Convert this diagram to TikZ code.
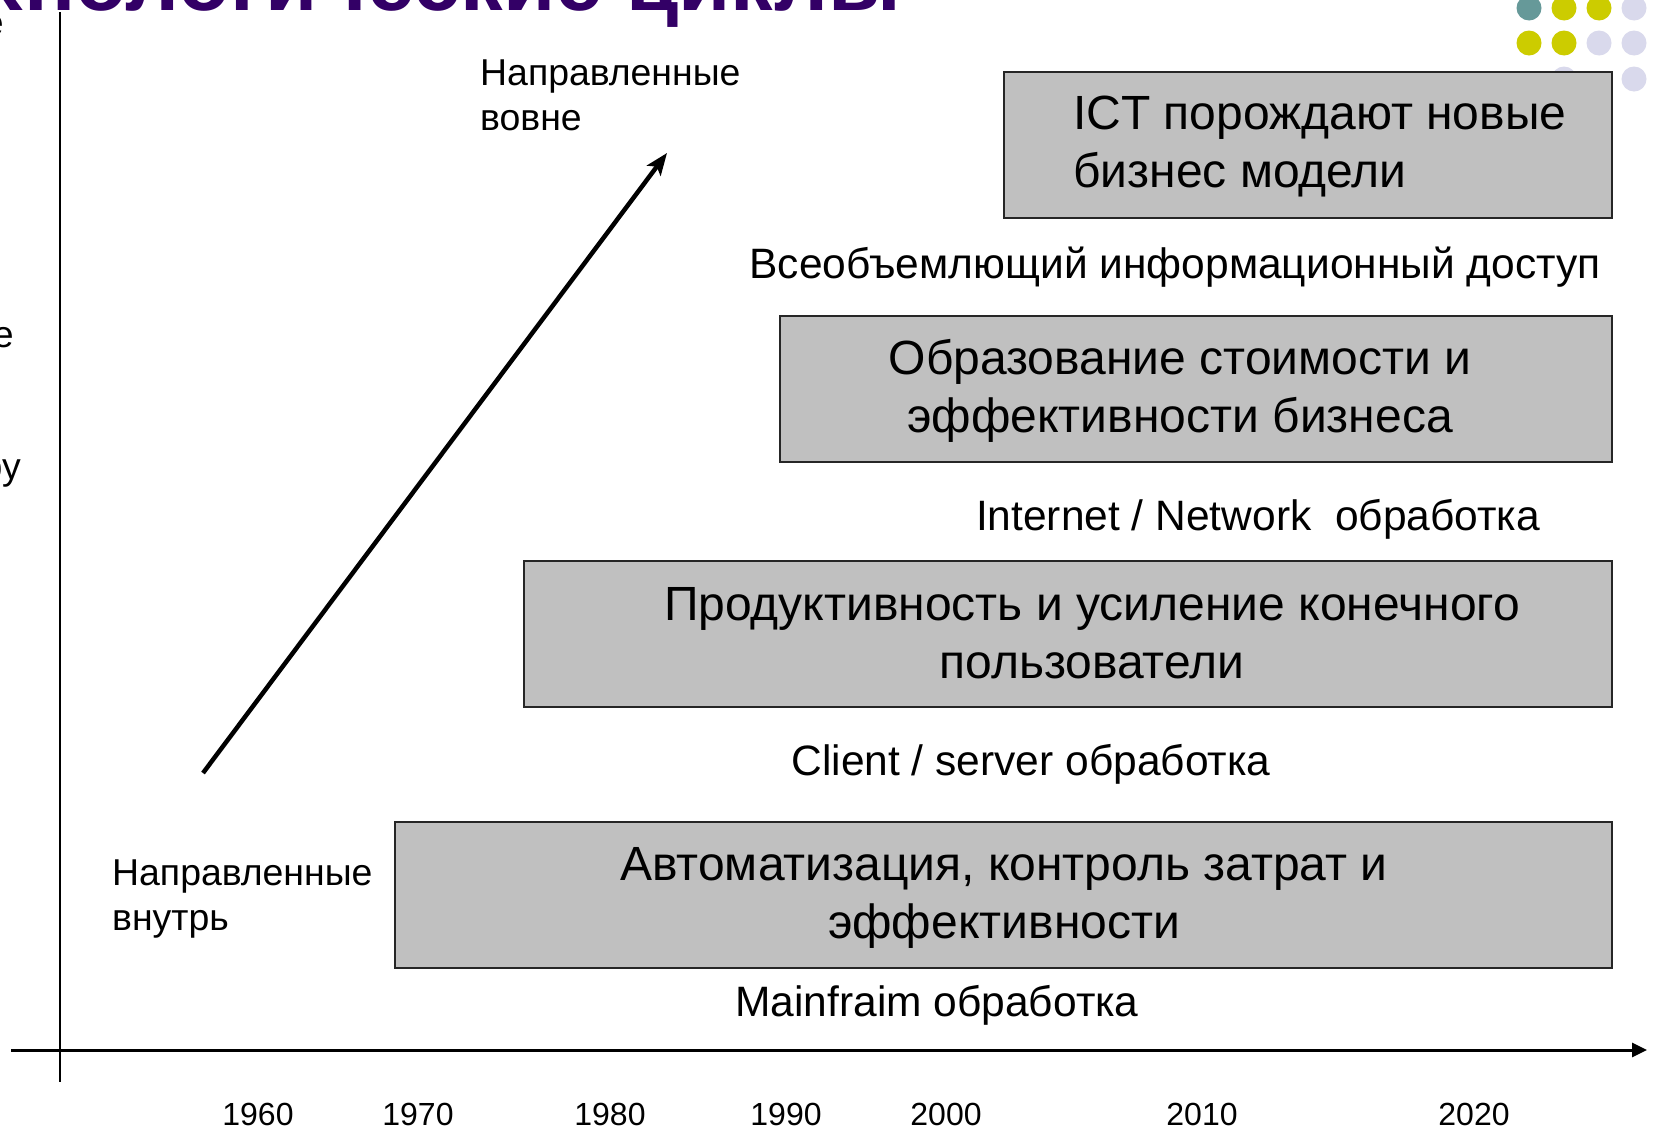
\documentclass[tikz,border=0pt]{standalone}
\usepackage{fontspec}
\setmainfont{Liberation Sans}
\usetikzlibrary{arrows.meta}
\definecolor{titlepurple}{RGB}{51,0,102}
\definecolor{panelgray}{RGB}{192,192,192}
\definecolor{dotteal}{RGB}{102,153,153}
\definecolor{dotyellow}{RGB}{204,204,0}
\definecolor{dotlilac}{RGB}{217,217,236}
\tikzset{
  panel/.style={draw=black!85, line width=1.6pt, fill=panelgray, inner sep=0pt, rectangle},
  paneltext/.style={inner sep=0pt, font=\fontsize{48}{58}\selectfont, align=center},
  layertext/.style={inner sep=0pt, font=\fontsize{42.5}{50}\selectfont},
  sidetext/.style={inner sep=0pt, font=\fontsize{37.4}{45}\selectfont, align=left},
  yeartext/.style={inner sep=0pt, font=\fontsize{32}{38}\selectfont},
  dot/.style={radius=12.5}
}
\begin{document}
\begin{tikzpicture}[x=1pt, y=-1pt]
\useasboundingbox (0,0) rectangle (1653,1128);
\fill[white] (0,0) rectangle (1653,1128);

% slide title, mostly above the visible area
\node[inner sep=0pt, anchor=base east, text=titlepurple,
      font=\fontsize{85}{85}\selectfont\bfseries] (title) at (901,10)
      {Технологические циклы};

% word endings of the side caption
\node[sidetext, anchor=base east] (sideA) at (4,35) {е};
\node[sidetext, anchor=base east] (sideB) at (14,347) {е};
\node[sidetext, anchor=base east] (sideC) at (21,479) {ру};

% decorative dots
\fill[dotteal]   (1529,8) circle[dot];
\fill[dotyellow] (1564,8) circle[dot];
\fill[dotyellow] (1599,8) circle[dot];
\fill[dotlilac]  (1634,8) circle[dot];
\fill[dotyellow] (1529,43) circle[dot];
\fill[dotyellow] (1564,43) circle[dot];
\fill[dotlilac]  (1599,43) circle[dot];
\fill[dotlilac]  (1634,43) circle[dot];
\fill[dotlilac]  (1564,79) circle[dot];
\fill[dotlilac]  (1634,79) circle[dot];

% axes
\coordinate (ytop) at (60,12);
\coordinate (ybot) at (60,1082);
\coordinate (xstart) at (11,1050);
\coordinate (xend) at (1647,1050);
\draw[line width=1.8pt] (ytop) -- (ybot);
\draw[line width=3pt, -{Triangle[length=15pt,width=14pt]}] (xstart) -- (xend);

% stages
\node[panel, minimum width=1217pt, minimum height=146pt] (p1) at (1003.5,895) {};
\node[panel, minimum width=1088pt, minimum height=146pt] (p2) at (1068,634) {};
\node[panel, minimum width=832pt,  minimum height=146pt] (p3) at (1196,389) {};
\node[panel, minimum width=608pt,  minimum height=146pt] (p4) at (1308,145) {};

% the base anchor of a two-line text sits on its last line
\node[paneltext, anchor=base] (t1) at (1004,938)
  {Автоматизация, контроль затрат и\\эффективности};
\node[paneltext, anchor=base] (t2) at (1092,678)
  {Продуктивность и усиление конечного\\пользователи};
\node[paneltext, anchor=base] (t3) at (1180,432)
  {Образование стоимости и\\эффективности бизнеса};
\node[paneltext, anchor=base west, align=left] (t4) at (1073,187)
  {ICT порождают новые\\бизнес модели};

% processing eras
\node[layertext, anchor=base] (l1) at (937,1016) {Mainfraim обработка};
\node[layertext, anchor=base] (l2) at (1031,775) {Client / server обработка};
\node[layertext, anchor=base] (l3) at (1258,530) {Internet / Network\ \ обработка};
\node[layertext, anchor=base] (l4) at (1175,278) {Всеобъемлющий информационный доступ};

% orientation
\node[sidetext, anchor=base west] (inward) at (112,930) {Направленные\\внутрь};
\node[sidetext, anchor=base west] (outward) at (480,130) {Направленные\\вовне};
\coordinate (arrlow) at (203,773);
\coordinate (arrhigh) at (667,153);
\draw[line width=4.5pt, -{Stealth[length=22pt,width=17pt,inset=5pt]}] (arrlow) -- (arrhigh);

% years
\node[yeartext, anchor=base] (y1960) at (258,1125) {1960};
\node[yeartext, anchor=base] (y1970) at (418,1125) {1970};
\node[yeartext, anchor=base] (y1980) at (610,1125) {1980};
\node[yeartext, anchor=base] (y1990) at (786,1125) {1990};
\node[yeartext, anchor=base] (y2000) at (946,1125) {2000};
\node[yeartext, anchor=base] (y2010) at (1202,1125) {2010};
\node[yeartext, anchor=base] (y2020) at (1474,1125) {2020};
\end{tikzpicture}
\end{document}
